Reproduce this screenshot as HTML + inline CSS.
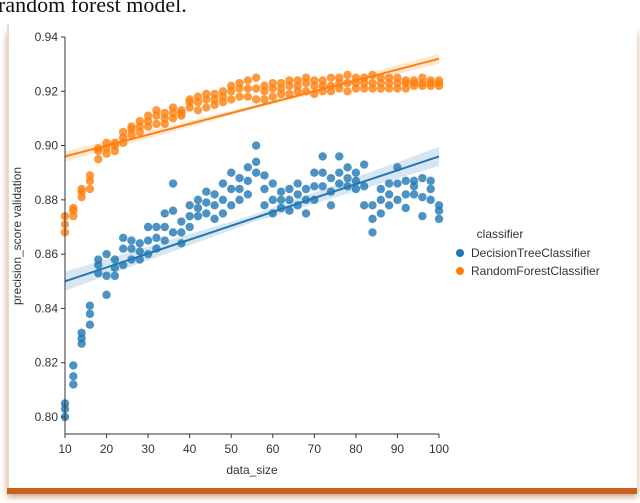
<!DOCTYPE html>
<html><head><meta charset="utf-8"><style>
body{margin:0;width:640px;height:503px;background:#fff;overflow:hidden;position:relative;font-family:"Liberation Sans",sans-serif}
#cap{position:absolute;left:-2px;top:-8px;font:22px "Liberation Serif",serif;color:#111}
#frame{position:absolute;left:7px;top:24px;width:628px;height:464px;background:#fff;border-left:2px solid #f3d6c0;box-shadow:0 6px 0 #c8611a,0 9px 6px rgba(160,80,20,.5)}
svg{position:absolute;left:0;top:0}
</style></head><body>
<div id="cap">random forest model.</div>
<div id="frame"></div>
<svg id="chart" width="640" height="503"></svg>
<script>
const xs=[10,12,14,16,18,20,22,24,26,28,30,32,34,36,38,40,42,44,46,48,50,52,54,56,58,60,62,64,66,68,70,72,74,76,78,80,82,84,86,88,90,92,94,96,98,100];
const rfLo=[.868,.874,.881,.884,.895,.897,.898,.901,.904,.905,.907,.908,.908,.910,.911,.914,.913,.914,.915,.916,.917,.918,.918,.917,.917,.918,.919,.919,.920,.920,.919,.920,.920,.921,.920,.921,.921,.921,.921,.921,.921,.921,.922,.922,.922,.922];
const rfMid=[.871,.876,.883,.887,.898,.899,.900,.903,.906,.907,.909,.911,.910,.912,.912,.916,.916,.917,.917,.918,.920,.921,.921,.921,.920,.921,.921,.922,.922,.923,.922,.922,.922,.923,.923,.923,.923,.923,.923,.923,.923,.923,.923,.923,.923,.923];
const rfHi=[.874,.877,.884,.889,.899,.901,.901,.905,.907,.909,.911,.913,.912,.914,.913,.917,.918,.919,.919,.920,.922,.923,.924,.925,.922,.923,.923,.924,.924,.925,.924,.924,.925,.925,.926,.925,.925,.926,.925,.925,.925,.924,.924,.925,.924,.924];
const dtLo=[.800,.812,.827,.834,.853,.845,.852,.856,.858,.858,.860,.862,.865,.868,.864,.870,.874,.875,.873,.875,.878,.880,.882,.890,.878,.875,.877,.876,.878,.875,.880,.885,.878,.886,.885,.884,.878,.868,.875,.878,.880,.877,.882,.874,.880,.873];
const dtMid=[.803,.815,.829,.838,.856,.852,.855,.862,.862,.861,.865,.866,.870,.876,.868,.874,.877,.879,.878,.880,.884,.884,.887,.894,.884,.880,.880,.880,.882,.880,.885,.890,.883,.890,.888,.887,.885,.873,.880,.882,.886,.882,.885,.881,.884,.876];
const dtHi=[.805,.819,.831,.841,.858,.860,.858,.866,.865,.864,.870,.870,.875,.886,.872,.878,.880,.883,.882,.886,.890,.888,.892,.900,.889,.886,.883,.884,.886,.884,.890,.896,.888,.896,.892,.890,.893,.878,.884,.886,.892,.887,.887,.888,.887,.878];
const rfFit=[.896,.932], dtFit=[.850,.896];
const yTicks=[.80,.82,.84,.86,.88,.90,.92,.94];
const xTicks=[10,20,30,40,50,60,70,80,90,100];
const X=v=>65+(v-10)*(439-65)/90, Y=v=>417-(v-.80)*(417-37)/.14;
const svg=document.getElementById('chart'),NS='http://www.w3.org/2000/svg';
function mk(t,a,p){const e=document.createElementNS(NS,t);for(const k in a)e.setAttribute(k,a[k]);(p||svg).appendChild(e);return e;}
function band(fit,w,col,name){const x0=X(10),x1=X(100);const e=mk('polygon',{points:`${x0},${Y(fit[0]-w*1.6)} ${X(55)},${Y((fit[0]+fit[1])/2-w*.6)} ${x1},${Y(fit[1]-w*1.6)} ${x1},${Y(fit[1]+w*1.6)} ${X(55)},${Y((fit[0]+fit[1])/2+w*.6)} ${x0},${Y(fit[0]+w*1.6)}`,fill:col,opacity:.18});

}
band(rfFit,.0012,'#ff7f0e','rf-confidence-band');band(dtFit,.0022,'#1f77b4','dt-confidence-band');
function pts(lists,col,name){lists.forEach(arr=>arr.forEach((v,i)=>{const c=mk('circle',{cx:X(xs[i]),cy:Y(v),r:4.2,fill:col,opacity:.8});

}));}
pts([dtLo,dtMid,dtHi],'#1f77b4','dt-point');pts([rfLo,rfMid,rfHi],'#ff7f0e','rf-point');
[[rfFit,'#ff7f0e','rf-fit-line'],[dtFit,'#1f77b4','dt-fit-line']].forEach(([f,c,n])=>{const l=mk('line',{x1:X(10),y1:Y(f[0]),x2:X(100),y2:Y(f[1]),stroke:c,'stroke-width':2});

});
const ya=mk('line',{x1:65,y1:37,x2:65,y2:434,stroke:'#333','stroke-width':1});


const xa=mk('line',{x1:65,y1:434,x2:439,y2:434,stroke:'#333','stroke-width':1});


yTicks.forEach(t=>{mk('line',{x1:61,y1:Y(t),x2:65,y2:Y(t),stroke:'#333'});const tx=mk('text',{x:58,y:Y(t)+4,'text-anchor':'end','font-size':12,fill:'#333'});tx.textContent=t.toFixed(2);

});
xTicks.forEach(t=>{mk('line',{x1:X(t),y1:434,x2:X(t),y2:438,stroke:'#333'});const tx=mk('text',{x:X(t),y:453,'text-anchor':'middle','font-size':12,fill:'#333'});tx.textContent=t;

});
const xt=mk('text',{x:252,y:474,'text-anchor':'middle','font-size':12,fill:'#333'});xt.textContent='data_size';


const yt=mk('text',{x:0,y:0,transform:'translate(21,236) rotate(-90)','text-anchor':'middle','font-size':12,fill:'#333'});yt.textContent='precision_score validation';


const lt=mk('text',{x:500,y:238,'text-anchor':'middle','font-size':12,fill:'#333'});lt.textContent='classifier';


[['DecisionTreeClassifier','#1f77b4',253],['RandomForestClassifier','#ff7f0e',271]].forEach(([n,c,y])=>{const g=mk('g',{});


mk('circle',{cx:460,cy:y,r:4,fill:c},g);const t=mk('text',{x:471,y:y+4,'font-size':12,fill:'#333'},g);t.textContent=n;});
</script>
</body></html>
